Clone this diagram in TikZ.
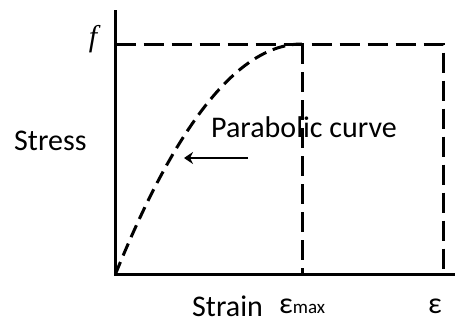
\documentclass[tikz,border=0pt]{standalone}
\usepackage{fontspec}
\setmainfont{Carlito}
\newfontfamily\fserif{Liberation Serif}
\usetikzlibrary{arrows.meta}
\begin{document}
\begin{tikzpicture}[x=1pt,y=-1pt,
  axis/.style={line width=3pt},
  dashline/.style={line width=3pt, dash pattern=on 20pt off 8pt},
  curvedash/.style={line width=3pt, dash pattern=on 13pt off 7pt},
  lbl/.style={font=\fontsize{30}{34}\selectfont, inner sep=0pt}]
\useasboundingbox (0,0) rectangle (455,324);
\coordinate (O) at (115.5,274);
\coordinate (T) at (115.5,10);
\coordinate (R) at (455,274);
\coordinate (P) at (302,44);
\coordinate (F) at (115.5,44);
\coordinate (C) at (443,44);
\coordinate (Pb) at (302,274);
\coordinate (Cb) at (443,274);
\draw[axis] (T) -- (O) -- (R);
\draw[dashline] (F) -- (C) -- (Cb);
\draw[dashline] (P) -- (Pb);
\draw[curvedash] plot[domain=0:1, samples=40, smooth] ({115.5+186.5*\x},{274-230*(2*\x-\x*\x)});
\node[lbl, anchor=base] (f) at (93,46) {\fserif\itshape f};
\node[lbl, anchor=base west] (stress) at (14,150) {Stress};
\node[lbl, anchor=base west] (para) at (211,137) {Parabolic curve};
\coordinate (a1) at (248,158);
\coordinate (a2) at (184,158);
\draw[line width=2pt, -{Stealth[length=9pt,width=12pt]}] (a1) -- (a2);
\node[lbl, anchor=base west] (strain) at (192,316) {Strain};
\node[lbl, anchor=base west] (emax) at (279,313) {ε{\fontsize{19}{22}\selectfont max}};
\node[lbl, anchor=base west] (eps) at (428,313) {ε};
\end{tikzpicture}
\end{document}
